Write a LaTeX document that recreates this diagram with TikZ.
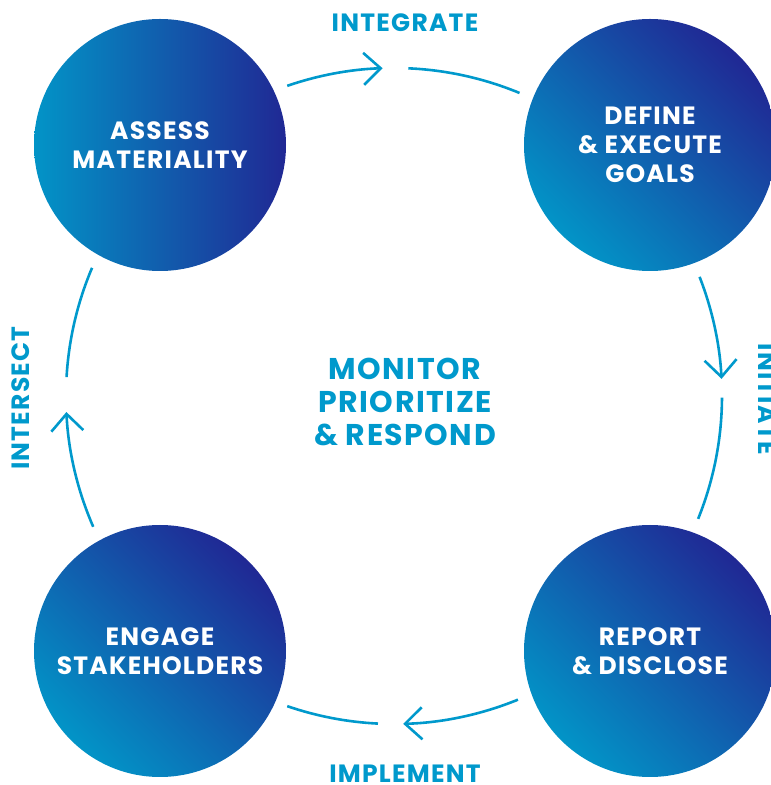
\documentclass[tikz,border=0pt]{standalone}
\usepackage{fontspec}
\setmainfont{Poppins}
\newfontfamily\widefont{Poppins}[LetterSpace=5]
\usetikzlibrary{shapes, arrows.meta, positioning}
\definecolor{cyanline}{RGB}{0,153,204}
\definecolor{clight}{RGB}{2,148,199}
\definecolor{cdark}{RGB}{32,40,148}
\tikzstyle{stage}=[circle,minimum size=252pt,inner sep=0pt,text=white,align=center,font=\fontsize{25}{29}\widefont\bfseries]
\tikzstyle{diag}=[top color=cdark,bottom color=clight,shading angle=-45]
\tikzstyle{flat}=[left color=clight,right color=cdark]
\tikzstyle{label}=[text=cyanline,font=\fontsize{25}{29}\widefont\bfseries]
\tikzstyle{flow}=[draw=cyanline,line width=2.6pt]

\begin{document}
\begin{tikzpicture}[x=1pt,y=1pt,>={Straight Barb[length=17pt,width=32pt]}]
    \useasboundingbox (0,0) rectangle (771,785);
    \clip (0,0) rectangle (771,785);
    \node[stage, flat] (assess) at (160,640) {ASSESS\\MATERIALITY};
    \node[stage, diag, right of=assess, node distance=490pt] (define) {DEFINE\\\& EXECUTE\\GOALS};
    \node[stage, diag, below of=assess, node distance=506pt] (engage) {ENGAGE\\STAKEHOLDERS};
    \node[stage, diag, right of=engage, node distance=490pt] (report) {REPORT\\\& DISCLOSE};
    \coordinate (hub) at (394,389);
    \node[label, align=center, font=\fontsize{30}{33}\widefont\bfseries] (monitor) at (405,383) {MONITOR\\PRIORITIZE\\\& RESPOND};
    \node[label] (integrate) at (405,762) {INTEGRATE};
    \node[label, rotate=-90] (initiate) at (767,386) {INITIATE};
    \node[label] (implement) at (405,11) {IMPLEMENT};
    \node[label, rotate=90] (intersect) at (21,387) {INTERSECT};
    % quarter arcs round the hub
    \draw[flow,->] ([shift={(109:328)}]hub) arc[start angle=109, end angle=92, radius=328];
    \draw[flow] ([shift={(87.5:328)}]hub) arc[start angle=87.5, end angle=67.5, radius=328];
    \draw[flow,->] ([shift={(21.3:328)}]hub) arc[start angle=21.3, end angle=3, radius=328];
    \draw[flow] ([shift={(-0.3:328)}]hub) arc[start angle=-0.3, end angle=-22, radius=328];
    \draw[flow,->] ([shift={(-67.8:328)}]hub) arc[start angle=-67.8, end angle=-88.4, radius=328];
    \draw[flow] ([shift={(-92.8:328)}]hub) arc[start angle=-92.8, end angle=-109, radius=328];
    \draw[flow,->] ([shift={(203.5:328)}]hub) arc[start angle=203.5, end angle=182.8, radius=328];
    \draw[flow] ([shift={(176.7:328)}]hub) arc[start angle=176.7, end angle=157, radius=328];
\end{tikzpicture}
\end{document}
